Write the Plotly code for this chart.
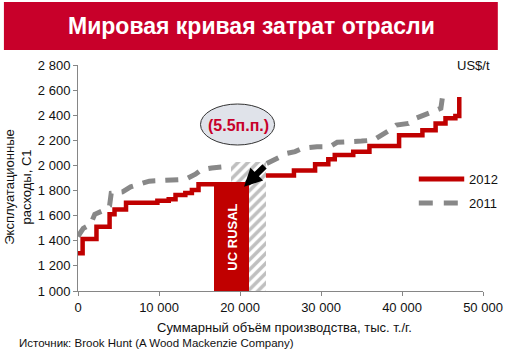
import plotly.graph_objects as go

# ---- data ----
x_2012_a = [0, 570, 2280, 3900, 4510, 5930, 9800, 11200, 12040, 13250, 14060, 14880, 16830]
y_2012_a = [1300, 1414, 1512, 1611, 1650, 1703, 1719, 1730, 1764, 1780, 1805, 1850, 1850]
x_2012_b = [23200, 26660, 29270, 30900, 31700, 33980, 35980, 39640, 42520, 44150, 45370, 46590, 47070]
y_2012_b = [1920, 1960, 2010, 2050, 2083, 2110, 2155, 2240, 2280, 2335, 2375, 2393, 2545]

x_2011_a = [0, 650, 1550, 2070, 3100, 3900, 4100, 5500, 6500, 7600, 8800, 11600, 13300, 14500, 15200, 16500, 18200, 18900]
y_2011_a = [1435, 1499, 1531, 1611, 1640, 1680, 1778, 1790, 1830, 1855, 1875, 1884, 1890, 1930, 1965, 1980, 1990, 1995]
x_2011_b = [23300, 25800, 26800, 27700, 29500, 31100, 32000, 33500, 35000, 36500, 37600, 38300, 39300,
            40800, 41700, 42600, 43900, 44800, 45000, 45400]
y_2011_b = [2016, 2096, 2110, 2136, 2149, 2150, 2184, 2185, 2194, 2202, 2242, 2274, 2322,
            2335, 2375, 2400, 2428, 2455, 2547, 2600]

rusal_x0, rusal_x1, rusal_cost = 16830, 21100, 1870
hatch_x0, hatch_x1, hatch_cost = 18900, 23200, 2030
y_base = 1000

x_ticks = [0, 10000, 20000, 30000, 40000, 50000]
y_ticks = [1000, 1200, 1400, 1600, 1800, 2000, 2200, 2400, 2600, 2800]

RED = "#C00000"
GRAY = "#888888"
TXT = "#111111"
FONT = "Liberation Sans, Arial, sans-serif"

# plot area in pixels
L, R, T, B = 78, 488, 65, 291
W, H = 515, 352


def px(xp):
    return (xp - L) / (R - L)


def py(yp):
    return (B - yp) / (B - T)


fig = go.Figure()

# hatched bar (2011 position)
fig.add_trace(go.Bar(
    x=[(hatch_x0 + hatch_x1) / 2], y=[hatch_cost - y_base], base=[y_base],
    width=[hatch_x1 - hatch_x0],
    marker=dict(color="white", line=dict(width=0),
                pattern=dict(shape="/", fgcolor="#7f7f7f", bgcolor="white", size=7, solidity=0.5)),
    showlegend=False, hoverinfo="skip"))
# UC RUSAL bar
fig.add_trace(go.Bar(
    x=[(rusal_x0 + rusal_x1) / 2], y=[rusal_cost - y_base], base=[y_base],
    width=[rusal_x1 - rusal_x0],
    marker=dict(color=RED, line=dict(width=0)),
    showlegend=False, hoverinfo="skip"))

# 2011 dashed
for xs, ys in [(x_2011_a, y_2011_a), (x_2011_b, y_2011_b)]:
    fig.add_trace(go.Scatter(x=xs, y=ys, mode="lines",
                             line=dict(color=GRAY, width=5, dash="13px,10px"),
                             showlegend=False, hoverinfo="skip"))
# 2012 step line
for xs, ys in [(x_2012_a, y_2012_a), (x_2012_b, y_2012_b)]:
    fig.add_trace(go.Scatter(x=xs, y=ys, mode="lines", line_shape="hv",
                             line=dict(color=RED, width=4.5),
                             showlegend=False, hoverinfo="skip"))

shapes = [
    # title banner
    dict(type="rect", xref="paper", yref="paper", x0=px(3), x1=px(503), y0=py(50), y1=py(2),
         fillcolor="#C8002A", line=dict(width=0), layer="below"),
    # ellipse
    dict(type="circle", xref="paper", yref="paper", x0=px(202), x1=px(277), y0=py(145), y1=py(104),
         fillcolor="#E0E3EA", line=dict(color="#333333", width=1)),
    # legend samples
    dict(type="line", xref="paper", yref="paper", x0=px(423), x1=px(469), y0=py(179), y1=py(179),
         line=dict(color=RED, width=5)),
    dict(type="line", xref="paper", yref="paper", x0=px(423), x1=px(466), y0=py(203), y1=py(203),
         line=dict(color=GRAY, width=5, dash="14px,11px")),
]


def ann(text, xp, yp, size=13, color=TXT, xanchor="center", angle=0):
    return dict(text=text, xref="paper", yref="paper", x=px(xp), y=py(yp),
                xanchor=xanchor, yanchor="middle", textangle=angle, showarrow=False,
                font=dict(size=size, color=color, family=FONT))


annotations = [
    ann("<b>Мировая кривая затрат отрасли</b>", 253.5, 26, size=23, color="white"),
    ann("<b>(5.5п.п.)</b>", 240, 125, size=16, color="#C8002A"),
    ann("US$/t", 497, 65, xanchor="right"),
    ann("2012", 472, 179, xanchor="left"),
    ann("2011", 472, 203, xanchor="left"),
    ann("Эксплуатационные<br>расходы, С1", 17, 187, angle=-90),
    ann("Суммарный объём производства, тыс. т./г.", 287, 327),
    ann("Источник: Brook Hunt (A Wood Mackenzie Company)", 16, 343, size=11.5, xanchor="left"),
    dict(text="<b>UC RUSAL</b>", x=(rusal_x0 + rusal_x1) / 2, y=1430, textangle=-90,
         xanchor="center", yanchor="middle",
         showarrow=False, font=dict(size=13, color="white", family=FONT)),
    # arrow
    dict(text="", x=20500, y=1830, ax=22, ay=-22, showarrow=True, arrowhead=2,
         arrowsize=0.6, arrowwidth=6, arrowcolor="black"),
]

fig.update_layout(
    width=W, height=H, margin=dict(l=L, r=W - R, t=T, b=H - B),
    paper_bgcolor="white", plot_bgcolor="white",
    barmode="overlay", bargap=0, separators=", ",
    font=dict(family=FONT, size=13, color=TXT),
    showlegend=False, shapes=shapes, annotations=annotations,
    xaxis=dict(range=[0, 50000], tickvals=x_ticks, tickformat=",d", showgrid=False, zeroline=False,
               showline=True, linecolor="#868686", linewidth=1, ticks="outside", ticklen=4,
               tickcolor="#868686", tickfont=dict(size=13, color=TXT)),
    yaxis=dict(range=[1000, 2800], tickvals=y_ticks, tickformat=",d", showgrid=False, zeroline=False,
               showline=True, linecolor="#868686", linewidth=1, ticks="outside", ticklen=4,
               tickcolor="#868686", tickfont=dict(size=13, color=TXT)),
)

fig.write_html("out.html")
